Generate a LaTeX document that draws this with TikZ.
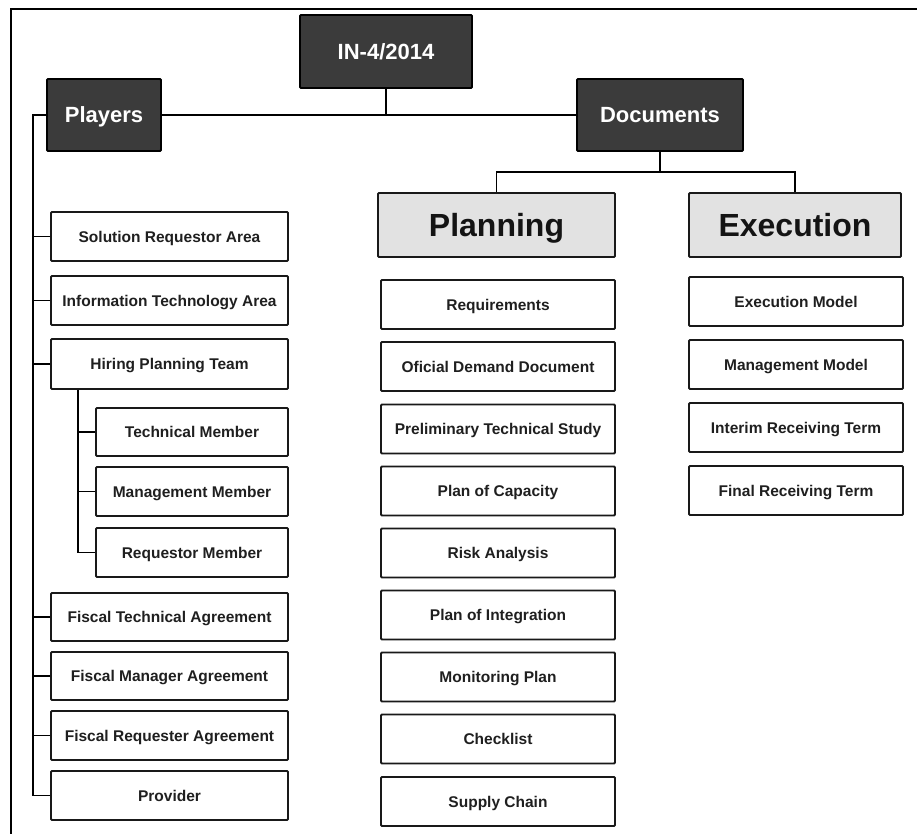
\documentclass[tikz,border=0pt]{standalone}
\usepackage{fontspec}
\setmainfont{Liberation Sans}
\definecolor{darkbox}{HTML}{3B3B3B}
\definecolor{headfill}{HTML}{E2E2E2}
\begin{document}
\begin{tikzpicture}[x=1pt,y=-1pt,
  box/.style={draw=black!90, line width=1.8pt, fill=white, minimum height=49pt, inner sep=0pt,
    text height=12.4pt, text depth=1.2pt,
    font=\bfseries\fontsize{15.5}{18}\selectfont, text=black!88, rounded corners=1pt},
  lbox/.style={box, minimum width=237pt},
  sbox/.style={box, minimum width=192pt},
  pbox/.style={box, minimum width=234pt},
  ebox/.style={box, minimum width=214pt},
  dark/.style={draw=black, line width=1.8pt, fill=darkbox, text=white, inner sep=0pt,
    text height=17.6pt, text depth=1.8pt,
    font=\bfseries\fontsize{22}{26}\selectfont, rounded corners=1pt},
  head/.style={draw=black!90, line width=1.8pt, fill=headfill, inner sep=0pt, minimum height=64pt,
    text height=25.6pt, text depth=2.6pt,
    font=\bfseries\fontsize{32}{38}\selectfont, text=black!92, rounded corners=1pt},
  conn/.style={line width=1.3pt, black},
  frame/.style={line width=2pt, black}]
\useasboundingbox (0,0) rectangle (917,834);
% frame
\coordinate (fbl) at (11,834);
\coordinate (ftl) at (11,9);
\coordinate (ftr) at (917,9);
\draw[frame] (fbl) -- (ftl) -- (ftr);

% top level
\node[dark, minimum width=172pt, minimum height=73pt] (in) at (386,51.5) {IN-4/2014};
\node[dark, minimum width=114pt, minimum height=72pt] (players) at (104,115) {Players};
\node[dark, minimum width=166pt, minimum height=72pt] (docs) at (660,115) {Documents};

% players column
\node[lbox] (sra) at (169.5,236.5) {Solution Requestor Area};
\node[lbox] (ita) at (169.5,300.5) {Information Technology Area};
\node[lbox, minimum height=50pt] (hpt) at (169.5,364) {Hiring Planning Team};
\node[sbox, minimum height=48pt] (tm) at (192,432) {Technical Member};
\node[sbox] (mm) at (192,491.5) {Management Member};
\node[sbox] (rm) at (192,552.5) {Requestor Member};
\node[lbox, minimum height=48pt] (fta) at (169.5,617) {Fiscal Technical Agreement};
\node[lbox, minimum height=48pt] (fma) at (169.5,676) {Fiscal Manager Agreement};
\node[lbox] (fra) at (169.5,735.5) {Fiscal Requester Agreement};
\node[lbox] (prov) at (169.5,795.5) {Provider};

% planning column
\node[head, minimum width=237pt] (plan) at (496.5,225) {Planning};
\node[pbox] (p1) at (498,304.5) {Requirements};
\node[pbox] (p2) at (498,366.5) {Oficial Demand Document};
\node[pbox] (p3) at (498,429) {Preliminary Technical Study};
\node[pbox] (p4) at (498,491) {Plan of Capacity};
\node[pbox] (p5) at (498,553) {Risk Analysis};
\node[pbox] (p6) at (498,615) {Plan of Integration};
\node[pbox] (p7) at (498,677) {Monitoring Plan};
\node[pbox] (p8) at (498,739) {Checklist};
\node[pbox] (p9) at (498,801.5) {Supply Chain};

% execution column
\node[head, minimum width=212pt] (exec) at (795,225) {Execution};
\node[ebox] (e1) at (796,301.5) {Execution Model};
\node[ebox] (e2) at (796,364.5) {Management Model};
\node[ebox] (e3) at (796,427.5) {Interim Receiving Term};
\node[ebox] (e4) at (796,490.5) {Final Receiving Term};

% connectors
\draw[conn] (in.south) -- (in.south |- players.east);
\draw[conn] (players.east) -- (docs.west);
\coordinate (trunk) at (33,115);
\draw[conn] (players.west) -- (trunk) |- (prov.west);
\foreach \n in {sra,ita,hpt,fta,fma,fra} \draw[conn] (\n.west) -- (\n.west -| trunk);
\coordinate (sub) at (78,389);
\draw[conn] (hpt.south -| sub) |- (rm.west);
\foreach \n in {tm,mm} \draw[conn] (\n.west) -- (\n.west -| sub);
\coordinate (dj) at (660,172);
\draw[conn] (docs.south) -- (dj);
\draw[conn] (plan.north) |- (dj) -| (exec.north);
\end{tikzpicture}
\end{document}
